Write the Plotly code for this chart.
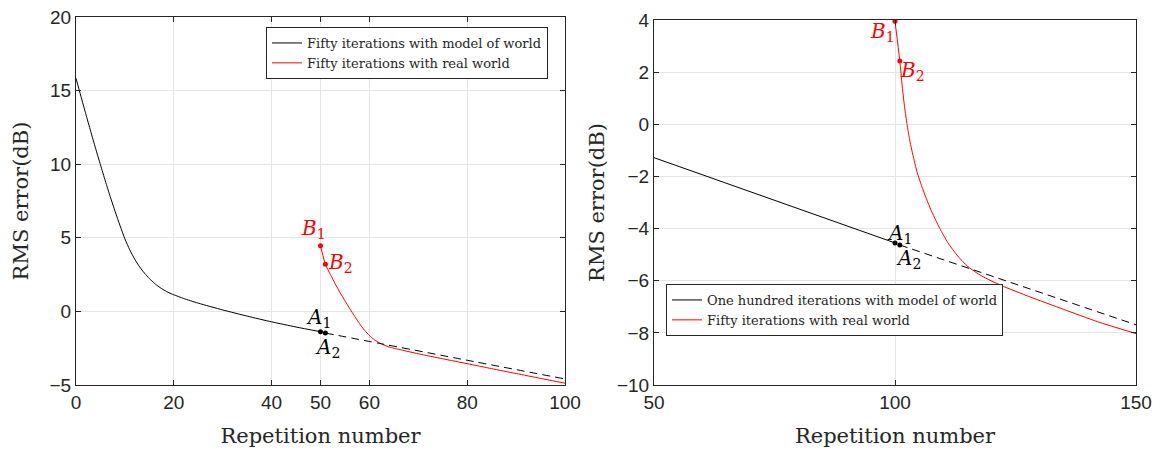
import plotly.graph_objects as go

# ---------------- data (left panel) ----------------
left_model_x = [0, 1, 2, 3, 4, 5, 6, 7, 8, 9, 10, 11, 12, 13, 14, 15, 16, 17, 18, 19, 20, 22, 25, 30, 35, 40, 45, 50]
left_model_y = [15.84, 14.62, 13.42, 12.24, 11.08, 9.96, 8.86, 7.80, 6.79, 5.83, 4.93, 4.18, 3.55, 3.03, 2.60,
                2.23, 1.92, 1.66, 1.45, 1.27, 1.13, 0.88, 0.56, 0.10, -0.32, -0.71, -1.06, -1.38]
left_dash_x = [51, 62, 80, 100]
left_dash_y = [-1.47, -2.17, -3.32, -4.59]
left_real_x = [50, 51, 52, 53, 54, 55, 56, 57, 58, 59, 60, 61, 62, 63, 64, 65, 66, 70, 75, 80, 85, 90, 95, 100]
left_real_y = [4.46, 3.2, 2.52, 1.88, 1.28, 0.72, 0.18, -0.34, -0.84, -1.28, -1.64, -1.92, -2.13, -2.29, -2.41,
               -2.5, -2.58, -2.88, -3.22, -3.55, -3.89, -4.22, -4.55, -4.88]
left_A_x = [50, 51]
left_A_y = [-1.38, -1.47]
left_B_x = [50, 51]
left_B_y = [4.46, 3.2]

# ---------------- data (right panel) ----------------
right_model_x = [50, 100]
right_model_y = [-1.28, -4.55]
right_dash_x = [101, 150]
right_dash_y = [-4.63, -7.69]
right_real_x = [100, 101, 101.5, 102, 102.5, 103, 103.5, 104, 104.6, 105.5, 106.5, 107.5, 108.5, 109.3,
                111, 113, 115.2, 118, 122, 128, 135, 142, 150]
right_real_y = [3.95, 2.43, 1.45, 0.65, 0.0, -0.55, -1.0, -1.4, -1.85, -2.35, -2.85, -3.3, -3.7, -4.0,
                -4.55, -5.05, -5.47, -5.82, -6.18, -6.62, -7.1, -7.57, -8.03]
right_A_x = [100, 101]
right_A_y = [-4.55, -4.63]
right_B_x = [100, 101]
right_B_y = [3.95, 2.43]

left_xticks = [0, 20, 40, 50, 60, 80, 100]
left_yticks = [-5, 0, 5, 10, 15, 20]
right_xticks = [50, 100, 150]
right_yticks = [-10, -8, -6, -4, -2, 0, 2, 4]

RED = "#FF0000"
BLK = "#000000"
SERIF = "DejaVu Serif"
SANS = "Liberation Sans"

fig = go.Figure()

# left panel
fig.add_trace(go.Scatter(x=left_model_x, y=left_model_y, mode="lines",
                         line=dict(color=BLK, width=1, shape="spline", smoothing=0.6),
                         name="Fifty iterations with model of world", legend="legend", xaxis="x", yaxis="y"))
fig.add_trace(go.Scatter(x=left_real_x, y=left_real_y, mode="lines",
                         line=dict(color=RED, width=1, shape="spline", smoothing=0.6),
                         name="Fifty iterations with real world", legend="legend", xaxis="x", yaxis="y"))
fig.add_trace(go.Scatter(x=left_dash_x, y=left_dash_y, mode="lines",
                         line=dict(color=BLK, width=1, dash="8px,5px", shape="spline", smoothing=0.6),
                         showlegend=False, xaxis="x", yaxis="y"))
fig.add_trace(go.Scatter(x=left_A_x, y=left_A_y, mode="markers", marker=dict(color=BLK, size=5),
                         showlegend=False, xaxis="x", yaxis="y"))
fig.add_trace(go.Scatter(x=left_B_x, y=left_B_y, mode="markers", marker=dict(color=RED, size=5),
                         showlegend=False, xaxis="x", yaxis="y"))

# right panel
fig.add_trace(go.Scatter(x=right_model_x, y=right_model_y, mode="lines", line=dict(color=BLK, width=1),
                         name="One hundred iterations with model of world", legend="legend2", xaxis="x2", yaxis="y2"))
fig.add_trace(go.Scatter(x=right_real_x, y=right_real_y, mode="lines",
                         line=dict(color=RED, width=1, shape="spline", smoothing=0.6),
                         name="Fifty iterations with real world", legend="legend2", xaxis="x2", yaxis="y2"))
fig.add_trace(go.Scatter(x=right_dash_x, y=right_dash_y, mode="lines", line=dict(color=BLK, width=1, dash="8px,5px"),
                         showlegend=False, xaxis="x2", yaxis="y2"))
fig.add_trace(go.Scatter(x=right_A_x, y=right_A_y, mode="markers", marker=dict(color=BLK, size=5),
                         showlegend=False, xaxis="x2", yaxis="y2"))
fig.add_trace(go.Scatter(x=right_B_x, y=right_B_y, mode="markers", marker=dict(color=RED, size=5),
                         showlegend=False, xaxis="x2", yaxis="y2"))

axis_common = dict(
    showline=True, linecolor="#262626", linewidth=1, mirror="ticks",
    ticks="inside", ticklen=5, tickcolor="#262626",
    showgrid=True, gridcolor="#E5E5E5", gridwidth=1, zeroline=False,
    tickfont=dict(family=SANS, size=19, color="#262626"),
    automargin=False,
)
title_font = dict(family=SERIF, size=21, color="#262626")

W, H = 1161, 452
fig.update_layout(
    width=W, height=H,
    margin=dict(l=0, r=0, t=0, b=0, autoexpand=False),
    paper_bgcolor="white", plot_bgcolor="white",
    xaxis=dict(domain=[76 / W, 565 / W], range=[0, 100], tickvals=left_xticks, anchor="y",
               title=dict(text="Repetition number", font=title_font, standoff=16), **axis_common),
    yaxis=dict(domain=[1 - 385 / H, 1 - 17 / H], range=[-5, 20], tickvals=left_yticks, anchor="x",
               title=dict(text="RMS error(dB)", font=title_font, standoff=15), **axis_common),
    xaxis2=dict(domain=[654 / W, 1136 / W], range=[50, 150], tickvals=right_xticks, anchor="y2",
                title=dict(text="Repetition number", font=title_font, standoff=16), **axis_common),
    yaxis2=dict(domain=[1 - 385 / H, 1 - 20 / H], range=[-10, 4], tickvals=right_yticks, anchor="x2",
                title=dict(text="RMS error(dB)", font=title_font, standoff=6), **axis_common),
    legend=dict(x=548 / W, y=1 - 27 / H, xanchor="right", yanchor="top",
                bgcolor="white", bordercolor="#262626", borderwidth=1,
                font=dict(family=SERIF, size=13, color="#262626"), tracegroupgap=0, itemwidth=30),
    legend2=dict(x=666 / W, y=1 - 284 / H, xanchor="left", yanchor="top",
                 bgcolor="white", bordercolor="#262626", borderwidth=1,
                 font=dict(family=SERIF, size=13, color="#262626"), tracegroupgap=0, itemwidth=30),
    showlegend=True,
)

ann_font = dict(family=SERIF, size=20)
labels = [
    ("x", "y", 48.5, 5.6, "<i>B</i><sub>1</sub>", RED),
    ("x", "y", 54.0, 3.3, "<i>B</i><sub>2</sub>", RED),
    ("x", "y", 49.5, -0.45, "<i>A</i><sub>1</sub>", BLK),
    ("x", "y", 51.5, -2.5, "<i>A</i><sub>2</sub>", BLK),
    ("x2", "y2", 97.5, 3.54, "<i>B</i><sub>1</sub>", RED),
    ("x2", "y2", 103.7, 2.04, "<i>B</i><sub>2</sub>", RED),
    ("x2", "y2", 101.0, -4.19, "<i>A</i><sub>1</sub>", BLK),
    ("x2", "y2", 102.7, -5.15, "<i>A</i><sub>2</sub>", BLK),
]
for xr, yr, xv, yv, txt, col in labels:
    fig.add_annotation(xref=xr, yref=yr, x=xv, y=yv, text=txt, showarrow=False,
                       xanchor="center", yanchor="middle", font=dict(color=col, **ann_font))

fig.write_html("out.html")
